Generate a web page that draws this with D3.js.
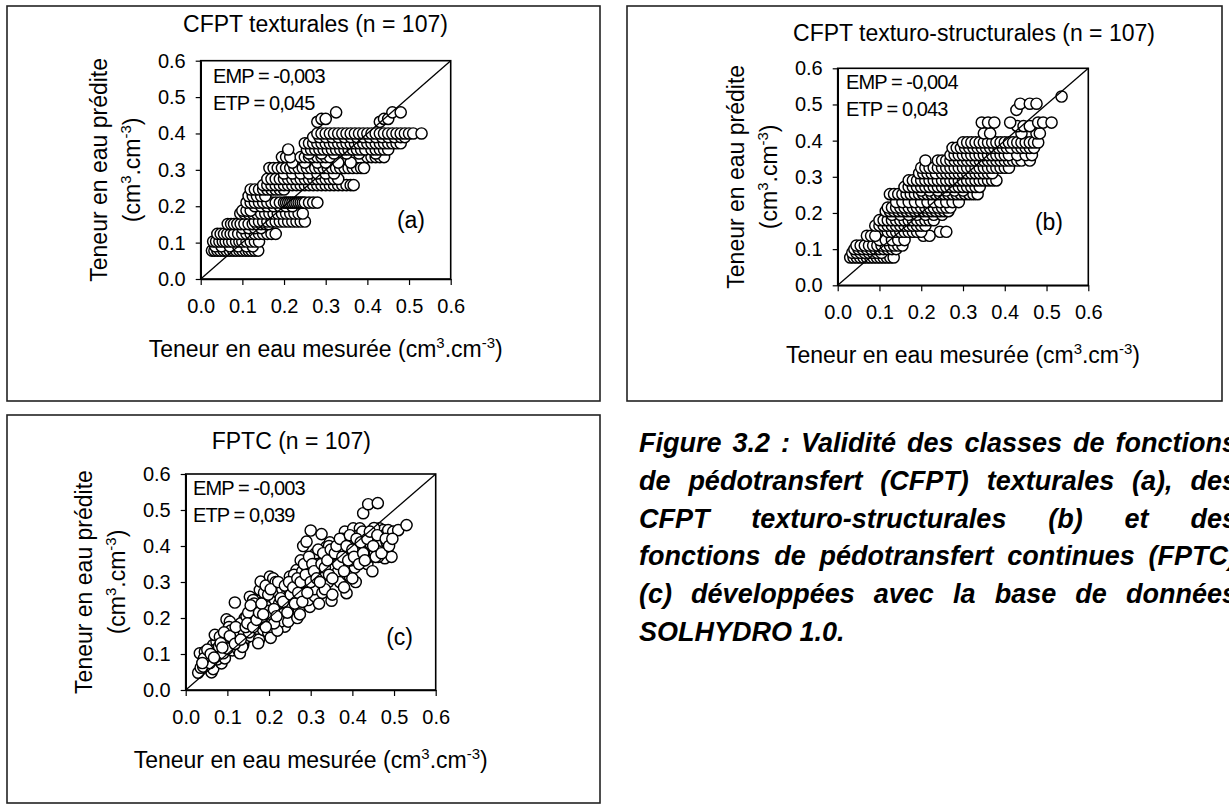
<!DOCTYPE html>
<html><head><meta charset="utf-8">
<script src="https://cdn.jsdelivr.net/npm/d3@7"></script>
<style>
body{margin:0;background:#fff}
svg{display:block}
text{font-family:"Liberation Sans",Arial,Helvetica,sans-serif;fill:#000}
</style></head>
<body><svg id="fig" width="1229" height="810"></svg>
<script>
// ---------------- DATA ----------------
const tickValues = [0, 0.1, 0.2, 0.3, 0.4, 0.5, 0.6];
const tickLabels = ["0.0", "0.1", "0.2", "0.3", "0.4", "0.5", "0.6"];
const panelTitles = ["CFPT texturales (n = 107)", "CFPT texturo-structurales (n = 107)", "FPTC (n = 107)"];
const empLabels = ["EMP = -0,003", "EMP = -0,004", "EMP = -0,003"];
const etpLabels = ["ETP = 0,045", "ETP = 0,043", "ETP = 0,039"];
const panelLetters = ["(a)", "(b)", "(c)"];
const yTitle1 = "Teneur en eau prédite";
const xTitleMain = "Teneur en eau mesurée ";
const captionLines = [
  "Figure 3.2 : Validité des classes de fonctions",
  "de pédotransfert (CFPT) texturales (a), des",
  "CFPT texturo-structurales (b) et des",
  "fonctions de pédotransfert continues (FPTC)",
  "(c) développées avec la base de données",
  "SOLHYDRO 1.0."
];

// (a) textural class PTFs: discrete predicted levels, measured values per level
const predA = [0.078, 0.09, 0.103, 0.124, 0.14, 0.151, 0.158, 0.18, 0.188, 0.2, 0.21, 0.228, 0.246, 0.258, 0.275, 0.29, 0.305, 0.32, 0.335, 0.345, 0.356, 0.373, 0.39, 0.40, 0.432, 0.44, 0.458];
const measA = [
  [0.027,0.033,0.04,0.047,0.055,0.062,0.07,0.078,0.085,0.093,0.1,0.108,0.115,0.122,0.13,0.138],
  [0.035,0.05,0.07,0.09,0.11,0.125],
  [0.03,0.037,0.045,0.053,0.06,0.068,0.076,0.085,0.093,0.1,0.11,0.12,0.13,0.14],
  [0.04,0.048,0.056,0.064,0.072,0.08,0.09,0.1,0.11,0.12,0.13,0.14,0.15,0.16,0.17,0.18],
  [0.1,0.115,0.13,0.145],
  [0.065,0.073,0.08,0.088,0.096,0.105,0.115,0.125,0.135,0.145,0.155,0.163],
  [0.13,0.14,0.15,0.16,0.17,0.18,0.19,0.2,0.21,0.22,0.23,0.24,0.25],
  [0.095,0.105,0.115,0.125,0.135,0.145,0.155,0.165,0.175,0.185,0.195,0.205,0.215,0.225,0.235,0.245],
  [0.1,0.11,0.12],
  [0.13,0.145,0.16,0.175,0.19,0.205,0.22],
  [0.11,0.12,0.13,0.14,0.15,0.16,0.17,0.18,0.19,0.2,0.205,0.21,0.215,0.22,0.225,0.23,0.235,0.24,0.245,0.25,0.26,0.27,0.28],
  [0.115,0.125,0.135,0.145,0.155],
  [0.12,0.13,0.14,0.15,0.16,0.17,0.18,0.19,0.2],
  [0.15,0.16,0.17,0.18,0.19,0.2,0.21,0.22,0.23,0.24,0.25,0.26,0.27,0.28,0.29,0.3,0.31,0.32,0.33,0.34,0.35,0.36,0.367],
  [0.16,0.17,0.18,0.19,0.2,0.21,0.22,0.23,0.24,0.25,0.26,0.27,0.28,0.29,0.3,0.31,0.32,0.33],
  [0.2,0.22,0.24,0.26,0.28,0.3,0.32],
  [0.165,0.175,0.185,0.195,0.205,0.215,0.225,0.235,0.245,0.255,0.265,0.275,0.285,0.295,0.305,0.315,0.325,0.335,0.345,0.355,0.365,0.375,0.385,0.392],
  [0.22,0.25,0.28,0.3,0.33,0.36],
  [0.195,0.205,0.215,0.24,0.25,0.26,0.27,0.28,0.29,0.3,0.31,0.4,0.41,0.42,0.43,0.44],
  [0.26,0.29,0.32,0.35,0.38,0.42],
  [0.21,0.255,0.265,0.275,0.285,0.295,0.305,0.315,0.325,0.335,0.345,0.355,0.365,0.375,0.385,0.395,0.41,0.42,0.43,0.44,0.45],
  [0.25,0.26,0.27,0.28,0.29,0.3,0.31,0.32,0.33,0.34,0.35,0.36,0.37,0.38,0.39,0.4,0.41,0.42,0.43,0.44,0.45,0.46,0.47,0.48],
  [0.27,0.285,0.3,0.315,0.33,0.345,0.36,0.375,0.39,0.405,0.42,0.435,0.45,0.465,0.48,0.49],
  [0.28,0.29,0.3,0.31,0.32,0.33,0.34,0.35,0.36,0.37,0.38,0.39,0.4,0.41,0.42,0.43,0.44,0.45,0.46,0.47,0.48,0.49,0.5,0.51,0.53],
  [0.28,0.43],
  [0.29,0.3,0.44,0.45],
  [0.325,0.46,0.48]
];

// (b) texturo-structural class PTFs
const predB = [0.077, 0.09, 0.10, 0.11, 0.125, 0.137, 0.148, 0.165, 0.18, 0.195, 0.205, 0.215, 0.23, 0.252, 0.262, 0.272, 0.29, 0.31, 0.325, 0.345, 0.36, 0.38, 0.395, 0.42, 0.44, 0.45, 0.485, 0.502, 0.522];
const measB = [
  [0.03,0.038,0.046,0.054,0.062,0.07,0.078,0.086,0.094,0.102,0.11,0.118,0.126,0.134],
  [0.035,0.045,0.055,0.065,0.075,0.085,0.095,0.105],
  [0.04,0.05,0.06,0.07,0.08,0.09,0.1,0.11,0.12,0.13,0.14],
  [0.045,0.055,0.065,0.075,0.085,0.095,0.105,0.115,0.125,0.135,0.145,0.155],
  [0.1,0.115,0.13,0.145,0.16],
  [0.07,0.08,0.09,0.205,0.22],
  [0.12,0.13,0.14,0.15,0.16,0.17,0.18,0.19,0.2,0.245,0.26],
  [0.09,0.1,0.11,0.12,0.13,0.14,0.15,0.16,0.17,0.18,0.19,0.2,0.21],
  [0.1,0.11,0.12,0.13,0.14,0.15,0.16,0.17,0.18,0.19,0.2,0.21,0.22,0.23],
  [0.13,0.15,0.17,0.19,0.21,0.23,0.25],
  [0.115,0.125,0.135,0.145,0.155,0.165,0.175,0.185,0.195,0.205,0.215,0.225,0.235,0.245,0.255,0.265],
  [0.12,0.13,0.14,0.15,0.16,0.17,0.18,0.19,0.2,0.21,0.22,0.23,0.24,0.25,0.26,0.27],
  [0.14,0.155,0.17,0.185,0.2,0.215,0.23,0.245,0.26,0.275,0.29],
  [0.125,0.135,0.145,0.155,0.165,0.175,0.185,0.195,0.205,0.215,0.225,0.235,0.245,0.255,0.265,0.275,0.285,0.295,0.305,0.315,0.325,0.335],
  [0.2,0.22,0.24,0.26,0.28,0.3],
  [0.16,0.17,0.18,0.19,0.2,0.21,0.22,0.23,0.24,0.25,0.26,0.27,0.28,0.29,0.3,0.31,0.32,0.33,0.34],
  [0.17,0.18,0.19,0.2,0.21,0.22,0.23,0.24,0.25,0.26,0.27,0.28,0.29,0.3,0.31,0.32,0.33,0.34,0.35,0.36,0.37,0.38],
  [0.195,0.205,0.215,0.225,0.235,0.25,0.26,0.27,0.28,0.29,0.3,0.31,0.32,0.33,0.34,0.35,0.36,0.37],
  [0.2,0.21,0.22,0.23,0.24,0.25,0.26,0.27,0.28,0.29,0.3,0.31,0.32,0.33,0.34,0.35,0.36,0.37,0.38,0.39,0.4,0.41],
  [0.21,0.24,0.25,0.26,0.27,0.28,0.29,0.3,0.31,0.32,0.33,0.34,0.35,0.36,0.37,0.38,0.39,0.4,0.41,0.42,0.43,0.44,0.46],
  [0.27,0.28,0.29,0.3,0.31,0.32,0.33,0.34,0.35,0.36,0.37,0.38,0.39,0.4,0.41,0.43,0.45,0.465],
  [0.275,0.285,0.295,0.305,0.315,0.325,0.335,0.345,0.355,0.365,0.375,0.385,0.395,0.405,0.415,0.43,0.44,0.45,0.46,0.47],
  [0.3,0.31,0.32,0.33,0.34,0.35,0.36,0.37,0.38,0.39,0.4,0.41,0.42,0.43,0.44,0.45,0.46,0.47,0.48],
  [0.35,0.365,0.44,0.476,0.484],
  [0.43,0.445,0.46],
  [0.345,0.36,0.375,0.413,0.48,0.492,0.512],
  [0.428],
  [0.437,0.46,0.476],
  [0.536]
];

// (c) continuous PTFs: [measured, predicted]
const pointsC = [
  [0.030,0.048],[0.036,0.062],[0.042,0.065],[0.062,0.049],[0.066,0.058],[0.050,0.079],[0.034,0.102],[0.046,0.106],[0.054,0.093],[0.058,0.075],[0.044,0.088],
  [0.066,0.125],[0.074,0.134],[0.070,0.153],[0.082,0.148],[0.086,0.074],[0.078,0.100],[0.072,0.112],[0.080,0.120],[0.088,0.095],[0.076,0.085],
  [0.094,0.088],[0.090,0.102],[0.098,0.196],[0.106,0.190],[0.118,0.243],[0.114,0.157],[0.102,0.130],[0.110,0.120],[0.096,0.145],[0.104,0.175],[0.112,0.110],[0.108,0.165],[0.116,0.140],[0.100,0.115],
  [0.126,0.111],[0.130,0.102],[0.138,0.125],[0.122,0.134],[0.128,0.150],[0.134,0.170],[0.124,0.160],[0.142,0.200],[0.132,0.185],[0.146,0.145],[0.146,0.204],[0.136,0.120],[0.140,0.160],
  [0.154,0.259],[0.162,0.250],[0.170,0.231],[0.156,0.150],[0.160,0.200],[0.166,0.210],[0.172,0.170],[0.158,0.185],[0.176,0.140],[0.164,0.240],[0.168,0.225],[0.152,0.160],[0.174,0.130],[0.178,0.190],
  [0.178,0.278],[0.180,0.301],[0.186,0.167],[0.194,0.204],[0.202,0.315],[0.190,0.250],[0.196,0.230],[0.184,0.185],[0.200,0.220],[0.188,0.270],[0.198,0.160],[0.206,0.210],[0.192,0.290],[0.204,0.145],[0.208,0.260],
  [0.210,0.310],[0.218,0.287],[0.226,0.204],[0.238,0.176],[0.214,0.250],[0.222,0.270],[0.230,0.230],[0.216,0.300],[0.234,0.215],[0.228,0.190],[0.236,0.260],[0.220,0.165],[0.232,0.280],[0.224,0.240],[0.212,0.185],
  [0.258,0.227],[0.250,0.315],[0.266,0.333],[0.244,0.270],[0.252,0.250],[0.262,0.300],[0.248,0.280],[0.256,0.210],[0.242,0.240],[0.246,0.190],[0.264,0.260],[0.254,0.290],[0.268,0.200],[0.260,0.320],
  [0.278,0.264],[0.282,0.400],[0.290,0.412],[0.298,0.231],[0.276,0.360],[0.284,0.300],[0.288,0.280],[0.280,0.330],[0.294,0.250],[0.272,0.220],[0.292,0.340],[0.286,0.310],[0.296,0.290],[0.274,0.210],
  [0.300,0.443],[0.314,0.287],[0.322,0.366],[0.326,0.433],[0.306,0.300],[0.318,0.340],[0.310,0.260],[0.302,0.320],[0.316,0.350],[0.308,0.280],[0.320,0.240],[0.312,0.380],[0.324,0.330],[0.328,0.270],
  [0.338,0.398],[0.350,0.248],[0.354,0.370],[0.362,0.333],[0.342,0.300],[0.346,0.410],[0.334,0.280],[0.358,0.350],[0.340,0.380],[0.336,0.320],[0.352,0.265],[0.344,0.400],[0.356,0.340],
  [0.374,0.352],[0.382,0.440],[0.386,0.269],[0.366,0.330],[0.378,0.390],[0.370,0.300],[0.384,0.410],[0.368,0.370],[0.380,0.285],[0.372,0.350],[0.376,0.420],[0.388,0.320],
  [0.394,0.315],[0.402,0.449],[0.410,0.380],[0.418,0.449],[0.398,0.420],[0.406,0.340],[0.414,0.400],[0.396,0.360],[0.408,0.300],[0.416,0.430],[0.400,0.310],[0.412,0.390],
  [0.426,0.491],[0.438,0.516],[0.434,0.361],[0.446,0.426],[0.442,0.384],[0.428,0.400],[0.436,0.350],[0.424,0.440],[0.440,0.370],[0.432,0.410],[0.448,0.330],[0.444,0.405],
  [0.461,0.519],[0.465,0.449],[0.474,0.444],[0.478,0.366],[0.466,0.389],[0.458,0.420],[0.470,0.400],[0.454,0.380],[0.476,0.430],[0.462,0.370],[0.452,0.450],[0.468,0.415],
  [0.482,0.412],[0.490,0.431],[0.486,0.444],[0.484,0.390],[0.494,0.370],[0.498,0.440],
  [0.510,0.444],[0.530,0.458],
  [0.040,0.075],[0.052,0.112],[0.060,0.100],[0.068,0.090],[0.084,0.130],[0.092,0.160],[0.088,0.118],[0.106,0.150],[0.120,0.175],[0.118,0.128],
  [0.132,0.140],[0.144,0.175],[0.150,0.215],[0.148,0.185],[0.156,0.235],[0.162,0.175],[0.170,0.195],[0.176,0.215],[0.182,0.240],[0.186,0.210],
  [0.192,0.175],[0.198,0.265],[0.204,0.280],[0.212,0.225],[0.218,0.205],[0.222,0.300],[0.228,0.255],[0.234,0.245],[0.238,0.290],[0.244,0.215],
  [0.248,0.300],[0.252,0.265],[0.258,0.285],[0.262,0.240],[0.268,0.310],[0.270,0.270],[0.276,0.300],[0.280,0.245],[0.284,0.350],[0.288,0.320],
  [0.292,0.270],[0.296,0.370],[0.300,0.300],[0.304,0.350],[0.308,0.330],[0.314,0.310],[0.318,0.390],[0.322,0.300],[0.326,0.350],[0.330,0.380],
  [0.334,0.340],[0.340,0.360],[0.344,0.320],[0.348,0.390],[0.352,0.310],[0.358,0.380],[0.362,0.400],[0.366,0.350],[0.370,0.420],[0.376,0.370],
  [0.380,0.330],[0.386,0.400],[0.390,0.360],[0.394,0.430],[0.400,0.390],[0.404,0.370],[0.410,0.420],[0.416,0.350],[0.420,0.410],[0.426,0.380],
  [0.430,0.360],[0.436,0.420],[0.442,0.440],[0.450,0.400],[0.456,0.370],[0.460,0.430],[0.470,0.380],[0.480,0.420],[0.488,0.400],[0.496,0.420]
];

// ---------------- LAYOUT ----------------
const svg = d3.select("#fig");
const boxes = [
  {x: 7, y: 6, w: 593, h: 395},
  {x: 627, y: 6, w: 595, h: 395},
  {x: 7, y: 415, w: 593, h: 388}
];
const layout = [
  {l: 200.7, r: 450.7, t: 60.7, b: 279, titleX: 315.5, titleY: 32, empX: 213, empY: 83, letX: 425, letY: 228},
  {l: 837.7, r: 1088.3, t: 68.3, b: 285.3, titleX: 974, titleY: 40.5, empX: 846, empY: 89, letX: 1063, letY: 230},
  {l: 185.7, r: 435.7, t: 474, b: 690, titleX: 291.3, titleY: 449, empX: 193, empY: 495, letX: 413, letY: 645}
];

const rows = (pred, meas) => pred.flatMap((p, i) => meas[i].map(m => [m, p]));
const datasets = [rows(predA, measA), rows(predB, measB), pointsC];

svg.append("rect").attr("width", 1229).attr("height", 810).attr("fill", "#fff");

boxes.forEach(b => svg.append("rect").attr("x", b.x).attr("y", b.y).attr("width", b.w).attr("height", b.h)
  .attr("fill", "none").attr("stroke", "#222").attr("stroke-width", 1.6));

function unitText(sel, main, size) {
  sel.append("tspan").text(main + "(cm");
  sel.append("tspan").attr("font-size", size * 0.65).attr("dy", -size * 0.4).text("3");
  sel.append("tspan").attr("dy", size * 0.4).text(".cm");
  sel.append("tspan").attr("font-size", size * 0.65).attr("dy", -size * 0.4).text("-3");
  sel.append("tspan").attr("dy", size * 0.4).text(")");
}

layout.forEach((L, i) => {
  const g = svg.append("g");
  const x = d3.scaleLinear().domain([0, 0.6]).range([L.l, L.r]);
  const y = d3.scaleLinear().domain([0, 0.6]).range([L.b, L.t]);

  // points
  g.append("g").selectAll("circle").data(datasets[i]).join("circle")
    .attr("cx", d => x(d[0])).attr("cy", d => y(d[1])).attr("r", 5.6)
    .attr("fill", "#fff").attr("stroke", "#000").attr("stroke-width", 1.45);

  // 1:1 line
  g.append("line").attr("x1", x(0)).attr("y1", y(0)).attr("x2", x(0.6)).attr("y2", y(0.6))
    .attr("stroke", "#000").attr("stroke-width", 1.3);

  // frame
  g.append("rect").attr("x", L.l).attr("y", L.t).attr("width", L.r - L.l).attr("height", L.b - L.t)
    .attr("fill", "none").attr("stroke", "#000").attr("stroke-width", 1.6);

  // axes
  const ax = g.append("g").attr("transform", `translate(0,${L.b})`)
    .call(d3.axisBottom(x).tickValues(tickValues).tickFormat((d, k) => tickLabels[k]).tickSize(6).tickSizeOuter(0).tickPadding(14));
  const ay = g.append("g").attr("transform", `translate(${L.l},0)`)
    .call(d3.axisLeft(y).tickValues(tickValues).tickFormat((d, k) => tickLabels[k]).tickSize(5).tickSizeOuter(0).tickPadding(10));
  [ax, ay].forEach(a => {
    a.attr("font-family", null).attr("font-size", null);
    a.select(".domain").attr("stroke", "#000").attr("stroke-width", 1.6);
    a.selectAll(".tick line").attr("stroke", "#000").attr("stroke-width", 1.2);
    a.selectAll(".tick text").attr("font-size", 20).attr("fill", "#000");
  });

  // title
  g.append("text").attr("x", L.titleX).attr("y", L.titleY).attr("text-anchor", "middle")
    .attr("font-size", 23).text(panelTitles[i]);

  // x title
  const xt = g.append("text").attr("x", (L.l + L.r) / 2).attr("y", L.b + 78)
    .attr("text-anchor", "middle").attr("font-size", 23);
  unitText(xt, xTitleMain, 23);

  // y title (two lines)
  const cy = (L.t + L.b) / 2;
  g.append("text").attr("transform", `translate(${L.l - 93.5},${cy}) rotate(-90)`)
    .attr("text-anchor", "middle").attr("font-size", 23).text(yTitle1);
  const yt = g.append("text").attr("transform", `translate(${L.l - 61},${cy}) rotate(-90)`)
    .attr("text-anchor", "middle").attr("font-size", 23);
  unitText(yt, "", 23);

  // stats
  g.append("text").attr("x", L.empX).attr("y", L.empY).attr("font-size", 20)
    .attr("letter-spacing", -0.9).text(empLabels[i]);
  g.append("text").attr("x", L.empX).attr("y", L.empY + 26.7).attr("font-size", 20)
    .attr("letter-spacing", -0.9).text(etpLabels[i]);

  // panel letter
  g.append("text").attr("x", L.letX).attr("y", L.letY).attr("text-anchor", "end")
    .attr("font-size", 23).text(panelLetters[i]);
});

// ---------------- CAPTION (justified, runs past the right edge as in the source page) ----------------
const capL = 639, capR = 1237, capY0 = 452, capDY = 37.8, capSize = 27;
const cap = svg.append("g").attr("font-size", capSize).attr("font-weight", "bold").attr("font-style", "italic");
captionLines.forEach((line, i) => {
  const words = line.split(" ");
  const nodes = words.map(w => cap.append("text").attr("y", capY0 + i * capDY).text(w));
  const widths = nodes.map(n => n.node().getComputedTextLength());
  const total = d3.sum(widths);
  const last = i === captionLines.length - 1;
  const gap = last ? capSize * 0.278 : (capR - capL - total) / (words.length - 1);
  let xx = capL;
  nodes.forEach((n, k) => { n.attr("x", xx); xx += widths[k] + gap; });
});
</script>
</body></html>
